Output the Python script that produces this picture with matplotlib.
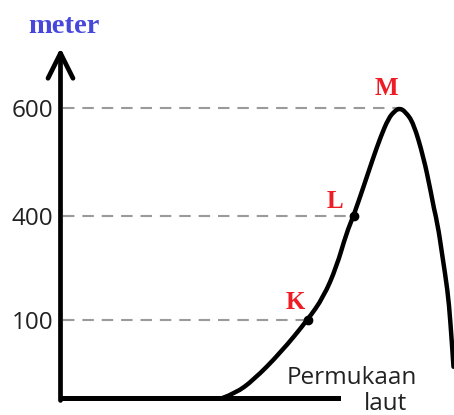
import matplotlib.pyplot as plt
import numpy as np
from matplotlib.scale import FuncScale
from matplotlib.path import Path
from matplotlib.patches import PathPatch

# profil gunung (jarak mendatar, tinggi dalam meter)
jarak = [162, 175, 193, 220, 247, 263, 276, 286, 293, 303, 312, 320, 328,
         334, 339, 345, 353, 363, 370, 377, 382, 387, 390, 393]
tinggi = [0, 6, 23, 58, 100, 166, 253, 351, 400, 454, 504, 546, 581,
          594, 600, 593, 572, 509, 448, 380, 282, 187, 96, 40]

# titik K, L, M
titik = ['K', 'L', 'M']
titik_x = [247, 293, 339]
titik_y = [100, 400, 600]

# label sumbu y
yticks = [100, 400, 600]
ytick_labels = ['100', '400', '600']

# skala sumbu y tidak linear (gambar skematis)
m_knots = np.array([-1000, 0, 100, 400, 600, 2000])
h_knots = np.array([-780, 0, 78, 182, 290, 1046])


def forward(m):
    return np.interp(m, m_knots, h_knots)


def inverse(h):
    return np.interp(h, h_knots, m_knots)


W, H = 454, 415
fig = plt.figure(figsize=(W / 100, H / 100), dpi=100)
ax = fig.add_axes([60.5 / W, (H - 398) / H, (W - 60.5) / W, 350 / H])
ax.set_yscale(FuncScale(ax.yaxis, (forward, inverse)))
ax.set_xlim(0, W - 60.5)
ax.set_ylim(0, inverse(350))

# garis putus-putus
for x, y in zip(titik_x, titik_y):
    ax.plot([2, x], [y, y], color='#9a9a9a', lw=1.5,
            linestyle=(0, (5.5, 3.8)), zorder=1)

# kurva halus lewat titik-titik profil (bezier kuadrat)
pts = list(zip(jarak, tinggi))
verts = [pts[0]]
codes = [Path.MOVETO]
for i in range(1, len(pts) - 1):
    mid = ((pts[i][0] + pts[i + 1][0]) / 2, (pts[i][1] + pts[i + 1][1]) / 2)
    verts += [pts[i], mid]
    codes += [Path.CURVE3, Path.CURVE3]
verts.append(pts[-1])
codes.append(Path.LINETO)
ax.add_patch(PathPatch(Path(verts, codes), fill=False, edgecolor='black',
                       lw=3.2, capstyle='round', joinstyle='round', zorder=3))
ax.plot(titik_x[:2], titik_y[:2], 'o', color='black', markersize=6, zorder=4)

offsets = [(-9, 8), (-13.7, 5.8), (-9.4, 9.4)]
for t, x, y, off in zip(titik, titik_x, titik_y, offsets):
    ax.annotate(t, (x, y), xytext=off, textcoords='offset points',
                ha='center', va='baseline', color='#ee1c24',
                fontsize=18, fontweight='bold', family='Liberation Serif')

# sumbu
for s in ['top', 'right', 'left']:
    ax.spines[s].set_visible(False)
ax.spines['bottom'].set_bounds(0, 277.5)
ax.spines['bottom'].set_linewidth(3.6)
ax.annotate('', xy=(0, 1), xytext=(0, -0.007), xycoords='axes fraction',
            arrowprops=dict(arrowstyle='->,head_length=0.9,head_width=0.45',
                            lw=3.4, color='black', mutation_scale=20,
                            shrinkA=0, shrinkB=0),
            annotation_clip=False)

ax.set_xticks([])
ax.set_yticks(yticks)
ax.set_yticklabels(ytick_labels)
ax.tick_params(axis='y', length=0, pad=5, labelsize=17.5, labelcolor='#222222')
for lab in ax.get_yticklabels():
    lab.set_family('Open Sans')

fig.text(64 / W, 1 - 33 / H, 'meter', ha='center', va='baseline',
         color='#4747dc', fontsize=20.5, fontweight='bold',
         family='Liberation Serif')
fig.text(352 / W, 1 - 384 / H, 'Permukaan', ha='center', va='baseline',
         color='#222222', fontsize=17.5, family='Open Sans')
fig.text(385 / W, 1 - 410 / H, 'laut', ha='center', va='baseline',
         color='#222222', fontsize=17.5, family='Open Sans')

fig.savefig('out.png', dpi=100)
